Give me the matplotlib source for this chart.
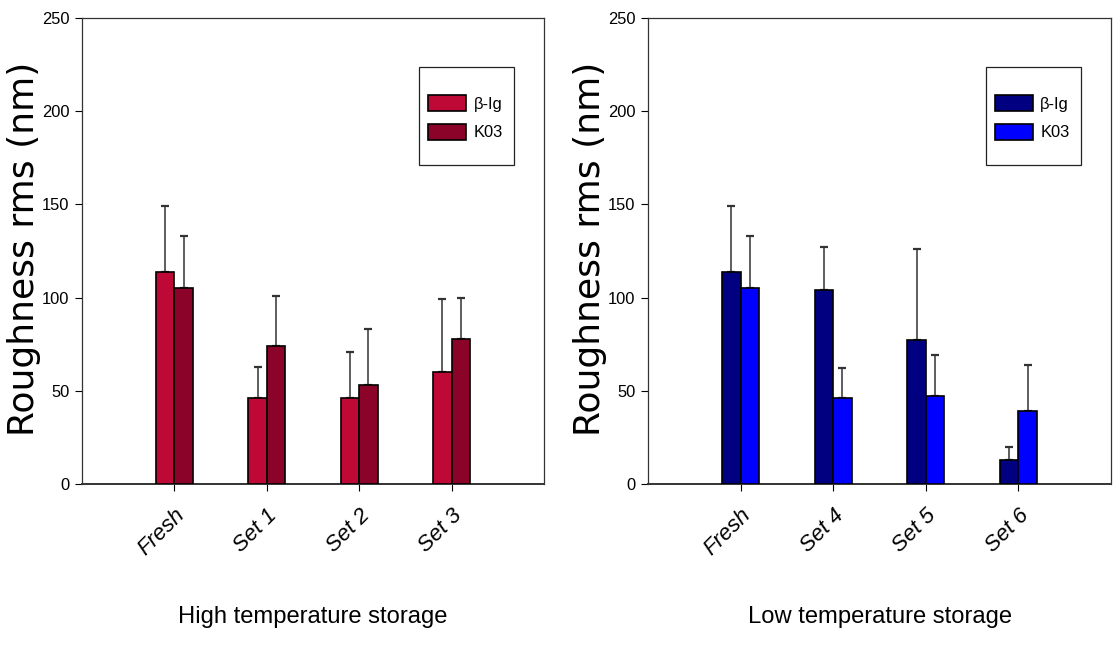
import numpy as np
import matplotlib
matplotlib.use("Agg")
import matplotlib.pyplot as plt
from matplotlib.patches import Rectangle
from matplotlib import font_manager

# roughness (nm), mean and upper error for each storage set
series_names = ["β-Ig", "K03"]

high_sets = ["Fresh", "Set 1", "Set 2", "Set 3"]
high_blg = [114, 46, 46, 60]
high_blg_err = [35, 17, 25, 39]
high_k03 = [105, 74, 53, 78]
high_k03_err = [28, 27, 30, 22]

low_sets = ["Fresh", "Set 4", "Set 5", "Set 6"]
low_blg = [114, 104, 77, 13]
low_blg_err = [35, 23, 49, 7]
low_k03 = [105, 46, 47, 39]
low_k03_err = [28, 16, 22, 25]

high_colors = ["#BE0836", "#8C0329"]
low_colors = ["#000080", "#0000FF"]

# use a narrow face if one is around, otherwise shrink the regular one
installed = {f.name for f in font_manager.fontManager.ttflist}
if "Liberation Sans Narrow" in installed:
    NARROW = dict(family="Liberation Sans Narrow")
    narrow_scale = 1.0
else:
    NARROW = dict(family="Liberation Sans")
    narrow_scale = 0.7

W, H = 1113, 653
fig = plt.figure(figsize=(W / 100, H / 100), dpi=100)


def panel(rect, sets, vals, errs, colors, title):
    ax = fig.add_axes(rect)
    x = np.arange(len(sets))
    w = 0.2
    for k, (v, e, c) in enumerate(zip(vals, errs, colors)):
        xs = x + (k - 0.5) * w
        ax.bar(xs, v, width=w, color=c, edgecolor="black", linewidth=1.2,
               label=series_names[k], zorder=3)
        ax.errorbar(xs, v, yerr=[np.zeros(len(v)), e], fmt="none",
                    ecolor="#333333", elinewidth=1.1, capsize=3, capthick=1.6,
                    zorder=2)
    ax.set_xlim(-1, 4)
    ax.set_ylim(0, 250)
    ax.set_yticks([0, 50, 100, 150, 200, 250])
    ax.set_xticks(x)
    ax.set_xticklabels(sets, rotation=45, ha="right", rotation_mode="anchor",
                       fontstyle="italic", fontsize=16,
                       family=["Liberation Sans", "DejaVu Sans"])
    for lab in ax.get_yticklabels():
        lab.set_fontproperties(font_manager.FontProperties(
            size=17 * narrow_scale, **NARROW))
    ax.tick_params(axis="y", length=5, width=0.8, direction="out", pad=4)
    ax.tick_params(axis="x", length=5, width=0.8, direction="out", pad=10)
    for s in ax.spines.values():
        s.set_color("#333333")
        s.set_linewidth(0.9)
    ax.spines["bottom"].set_linewidth(1.4)
    ax.set_ylabel("Roughness rms (nm)", fontsize=26, family=["DejaVu Sans"])
    ax.yaxis.set_label_coords(-0.088, 0.505)

    # legend box with a handmade frame
    ax.add_patch(Rectangle((0.729, 0.685), 0.206, 0.21, transform=ax.transAxes,
                           fill=False, edgecolor="#222222", linewidth=0.9,
                           zorder=5))
    ax.legend(loc="center left", bbox_to_anchor=(0.749, 0.786), frameon=False,
              borderpad=0, borderaxespad=0, handlelength=2.3,
              handleheight=1.1, handletextpad=0.45, labelspacing=0.75,
              prop=dict(size=17 * narrow_scale, **NARROW))

    fig.text(rect[0] + rect[2] / 2, 1 - 617 / H, title, ha="center",
             va="center", fontsize=24.5 * narrow_scale, **NARROW)
    return ax


panel([82 / W, 1 - 484 / H, 462 / W, 466 / H], high_sets,
      [high_blg, high_k03], [high_blg_err, high_k03_err], high_colors,
      "High temperature storage")
panel([648 / W, 1 - 484 / H, 463 / W, 466 / H], low_sets,
      [low_blg, low_k03], [low_blg_err, low_k03_err], low_colors,
      "Low temperature storage")

fig.savefig("out.png", dpi=100)
